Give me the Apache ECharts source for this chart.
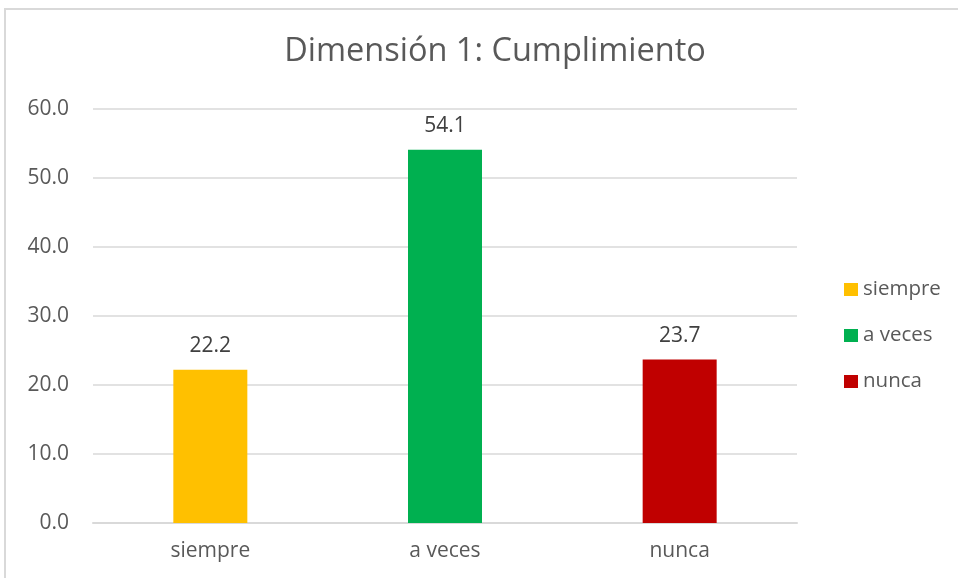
<!DOCTYPE html>
<html>
<head>
<meta charset="UTF-8">
<title>Dimensión 1: Cumplimiento</title>
<script src="https://cdn.jsdelivr.net/npm/echarts@6/dist/echarts.min.js"></script>
<style>
body{
margin:0;
background:#ffffff;
}
#chart{
width:958px;
height:578px;
}
</style>
</head>
<body>
<div id="chart"></div>
<script>

const categories = ["siempre","a veces","nunca"]
const values = [22.2,54.1,23.7]
const colors = ["#FFC000","#00B050","#C00000"]

const font = "'Open Sans', Lato, sans-serif"

const chart = echarts.init(document.getElementById("chart"))

chart.setOption({
 animation:false,
 textStyle:{ fontFamily:font },
 graphic:[
  {
   type:"rect",
   shape:{ x:5, y:9, width:1200, height:1200 },
   style:{ fill:"none", stroke:"#d9d9d9", lineWidth:2 },
   silent:true
  }
 ],
 title:{
  text:"Dimensión 1: Cumplimiento",
  left:490,
  top:30,
  textAlign:"center",
  textStyle:{ fontFamily:font, fontSize:32.5, fontWeight:"normal", color:"#595959" }
 },
 legend:{
  orient:"vertical",
  left:839,
  top:274,
  itemWidth:14,
  itemHeight:13,
  itemGap:25,
  icon:"rect",
  textStyle:{ fontFamily:font, fontSize:20.5, lineHeight:20, color:"#595959" },
  data:categories
 },
 grid:{ left:93, right:161, top:109, bottom:55 },
 xAxis:{
  type:"category",
  data:categories,
  axisLine:{ lineStyle:{ color:"#d9d9d9", width:2 } },
  axisTick:{ show:false },
  axisLabel:{ fontFamily:font, fontSize:21, color:"#595959", margin:18 }
 },
 yAxis:{
  type:"value",
  min:0,
  max:60,
  interval:10,
  axisLine:{ show:false },
  axisTick:{ show:false },
  splitLine:{ lineStyle:{ color:"#d9d9d9", width:1.5 } },
  axisLabel:{ fontFamily:font, fontSize:21, color:"#595959", margin:24, formatter:v=>v.toFixed(1) }
 },
 series:categories.map((c,i)=>({
  name:c,
  type:"bar",
  stack:"all",
  barWidth:74,
  itemStyle:{ color:colors[i] },
  label:{
   show:true,
   position:"top",
   distance:13,
   fontFamily:font,
   fontSize:21,
   color:"#404040",
   formatter:p=>p.value==null?"":p.value.toFixed(1)
  },
  data:categories.map((_,j)=>j===i?values[i]:null)
 }))
})

</script>
</body>
</html>
